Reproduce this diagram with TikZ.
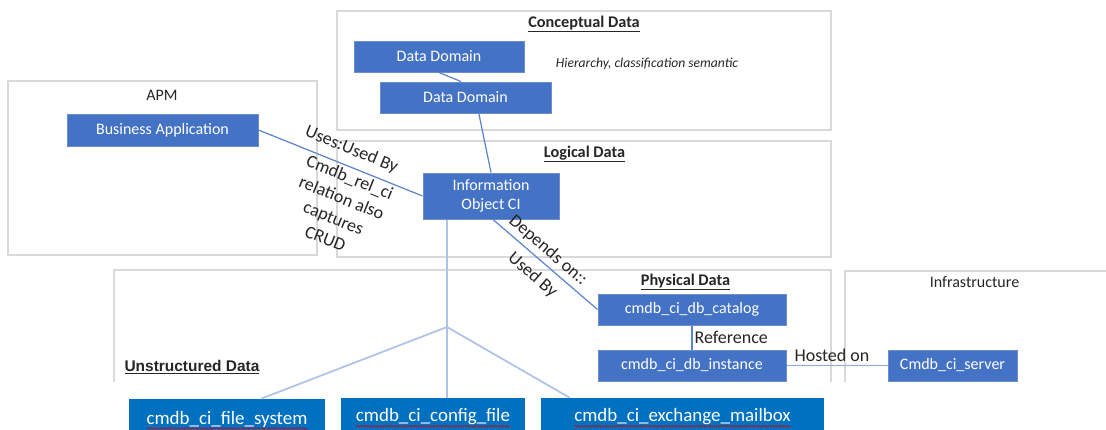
\documentclass[tikz,border=0pt]{standalone}
\usepackage{fontspec}
\setmainfont{Carlito}
\newfontfamily\arialfont{Liberation Sans}
\usetikzlibrary{calc,decorations.pathmorphing}

\definecolor{boxblue}{HTML}{4472C4}
\definecolor{boxedge}{HTML}{6A8ED0}
\definecolor{deepblue}{HTML}{0070C0}
\definecolor{framegray}{HTML}{D9D9D9}
\definecolor{linkblue}{HTML}{5B83CC}
\definecolor{hostblue}{HTML}{8FAADC}
\definecolor{treeblue}{HTML}{AFC3E8}
\definecolor{labelgray}{HTML}{262626}

\tikzset{
  sz/.style 2 args={minimum width=#1*0.75pt, minimum height=#2*0.75pt},
  cibox/.style={fill=boxblue, draw=boxedge, line width=0.75pt, text=white,
    font=\fontsize{12}{14.25}\selectfont, inner sep=0pt, align=center},
  unbox/.style={fill=deepblue, inner sep=0pt},
  untext/.style={text=white, font=\fontsize{14.2}{17}\selectfont, inner sep=0pt},
  spellwave/.style={draw=red!85!black, line width=0.45pt,
    decorate, decoration={snake, amplitude=0.55pt, segment length=2.6pt}},
  frame/.style={draw=framegray, line width=1.5pt},
  link/.style={draw=linkblue, line width=0.9pt},
  tree/.style={draw=treeblue, line width=1.3pt},
  edgelabel/.style={font=\fontsize{13.5}{16.5}\selectfont, text=labelgray, inner sep=0pt},
  grouptitle/.style={font=\bfseries\fontsize{12.2}{14}\selectfont, text=labelgray, inner sep=0pt},
  groupname/.style={font=\fontsize{12}{14}\selectfont, text=labelgray, inner sep=0pt}
}

\begin{document}
\begin{tikzpicture}[x=0.75pt, y=-0.75pt]
\useasboundingbox (0,0) rectangle (1106,429);
\clip (0,0) rectangle (1106,429);
\fill[white] (0,0) rectangle (1106,429);

% group frames
\draw[frame] (8,81) rectangle (317,255);
\draw[frame] (337,11) rectangle (831,130);
\draw[frame] (337,141) rectangle (831,257);
\draw[frame] (114,382) |- (831,270) -- (831,382);
\draw[frame] (845,382) |- (1106,271);

% group titles
\node[groupname] (tapm) at (162,95) {APM};
\node[grouptitle] (tcon) at (584,24) {\underline{Conceptual Data}};
\node[font=\itshape\fontsize{10.2}{12}\selectfont, text=labelgray, inner sep=0pt] (hier) at (647,64) {Hierarchy, classification semantic};
\node[grouptitle] (tlog) at (584.5,154) {\underline{Logical Data}};
\node[grouptitle] (tphy) at (685.5,282) {\underline{Physical Data}};
\node[groupname] (tinf) at (974.5,282) {Infrastructure};
\node[font=\arialfont\bfseries\fontsize{11.6}{14}\selectfont, text=labelgray, inner sep=0pt] (tuns) at (192,367) {\underline{Unstructured Data}};

% configuration items
\node[cibox, sz={170}{31}] (dd1) at (439,56.5) {Data Domain};
\node[cibox, sz={171}{31}] (dd2) at (465.5,97.5) {Data Domain};
\node[cibox, sz={191}{32}] (ba) at (162.5,130) {Business Application};
\node[cibox, sz={136}{46}] (io) at (491,196) {Information\\Object CI};
\node[cibox, sz={188}{31}] (cat) at (692,309.5) {cmdb\_ci\_db\_catalog};
\node[cibox, sz={188}{31}] (inst) at (692,365.5) {cmdb\_ci\_db\_instance};
\node[cibox, sz={129}{31}] (srv) at (952.5,365.5) {Cmdb\_ci\_server};

% unstructured data items, names marked by the spell checker
\node[unbox, sz={196}{34}] (fs) at (227,416) {};
\node[unbox, sz={184}{34}] (cf) at (433,415) {};
\node[unbox, sz={283}{34}] (em) at (682.5,415) {};
\node[untext] (fst) at ([yshift=-2.25pt]fs.center) {cmdb\_ci\_file\_system};
\node[untext] (cft) at ([yshift=-1.5pt]cf.center) {cmdb\_ci\_config\_file};
\node[untext] (emt) at ([yshift=-1.5pt]em.center) {cmdb\_ci\_exchange\_mailbox};
\foreach \t in {fst,cft,emt}
  \draw[spellwave] ([yshift=-3.2pt]\t.base west) -- ([yshift=-3.2pt]\t.base east);

% relations
\draw[link] (dd1.south) -- ([xshift=-3.4pt]dd2.north);
\draw[link] ([xshift=10pt]dd2.south) -- (io.north);
\draw[link] (ba.east) -- (io.west)
  node[edgelabel, sloped, pos=0.53, above=6pt] (uses) {Uses:Used By}
  node[edgelabel, sloped, pos=0.58, below=2pt, align=center] (crud)
    {Cmdb\_rel\_ci\\relation also\\captures\\CRUD};
\draw[link] ([xshift=1.5pt]io.south) -- (cat.west)
  node[edgelabel, sloped, pos=0.45, above=3pt] (dep) {Depends on::}
  node[edgelabel, sloped, pos=0.48, below=6pt] (usedby) {Used By};
\draw[link] (cat.south) -- (inst.north)
  node[edgelabel, midway, anchor=west, xshift=1.5pt] (refl) {Reference};
\draw[draw=hostblue, line width=0.8pt] (inst.east) -- (srv.west)
  node[edgelabel, pos=0.45, yshift=7.5pt] (host) {Hosted on};

% unstructured data branches
\coordinate (hub) at (447,327);
\draw[tree] (io.south -| hub) -- (hub);
\draw[tree] (hub) -- ([xshift=25.5pt]fs.north);
\draw[tree] (hub) -- (hub |- cf.north);
\draw[tree] (hub) -- ([xshift=21.75pt]em.north west);
\end{tikzpicture}
\end{document}
